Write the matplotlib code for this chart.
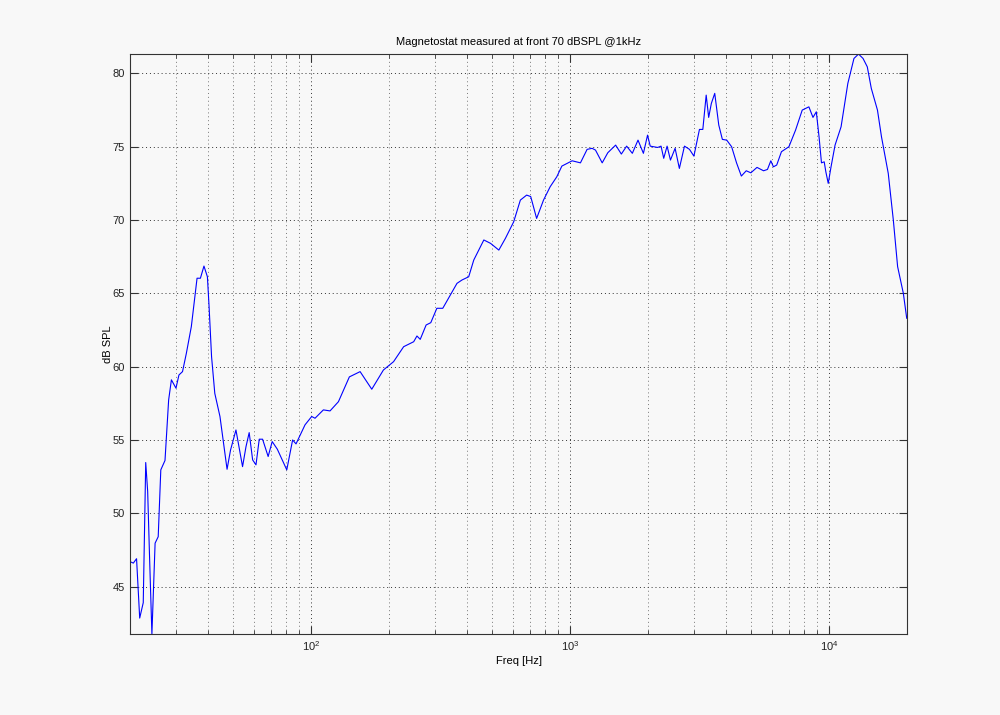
import numpy as np
import matplotlib
matplotlib.use("Agg")
import matplotlib.pyplot as plt
from matplotlib.ticker import LogLocator, NullFormatter, MultipleLocator

# Frequency response (Hz, dB SPL)
freq = [20.0, 20.6, 21.2, 21.8, 22.5, 23.0, 23.4, 23.8, 24.3, 25.0, 25.7, 26.3,
        27.3, 28.2, 28.9, 30.1, 30.9, 31.9, 33.0, 34.5, 36.3, 37.4, 38.6, 39.8,
        40.4, 41.3, 42.5, 44.5, 47.4, 48.9, 51.3, 54.4, 56.1, 57.7, 59.5, 61.3,
        63.1, 65.0, 68.3, 70.8, 74.1, 80.6, 84.9, 87.5, 94.8, 100.6, 103.6,
        111.6, 118.4, 127.6, 140.6, 154.7, 171.6, 190.3, 208.3, 227.8, 249.1,
        256.4, 264.0, 278.2, 290.0, 306.0, 322.6, 366.0, 382.7, 406.2, 424.9,
        464.7, 493.2, 531.0, 563.0, 606.0, 643.0, 680.0, 705.0, 743.0, 790.0,
        838.0, 889.0, 930.0, 1019, 1097, 1164, 1217, 1254, 1331, 1399, 1500,
        1578, 1654, 1740, 1830, 1920, 1992, 2040, 2180, 2246, 2300, 2370, 2442,
        2545, 2643, 2766, 2892, 3008, 3160, 3256, 3355, 3430, 3512, 3620, 3752,
        3874, 4027, 4206, 4394, 4586, 4790, 4990, 5270, 5587, 5785, 5960, 6100,
        6280, 6550, 7000, 7425, 7880, 8360, 8670, 8930, 9150, 9350, 9580, 9720,
        9930, 10180, 10550, 11130, 11820, 12480, 13000, 13530, 14050, 14560,
        15380, 15940, 16930, 17710, 18400, 19360, 19950]
spl = [46.7, 46.6, 46.9, 42.85, 43.9, 53.46, 51.5, 47.0, 41.75, 47.96, 48.4, 52.96,
       53.6, 57.73, 59.1, 58.53, 59.43, 59.66, 60.9, 62.73, 66.03, 66.03, 66.86, 66.13,
       64.09, 60.68, 58.18, 56.6, 53.0, 54.32, 55.68, 53.18, 54.55, 55.5, 53.64, 53.3,
       55.05, 55.05, 53.87, 54.89, 54.37, 52.96, 55.0, 54.73, 56.03, 56.6, 56.48,
       57.05, 56.98, 57.61, 59.3, 59.66, 58.46, 59.77, 60.34, 61.36, 61.7,
       62.09, 61.86, 62.84, 63.0, 63.98, 63.98, 65.68, 65.91, 66.13, 67.27,
       68.64, 68.41, 67.95, 68.75, 69.88, 71.36, 71.7, 71.6, 70.11, 71.36,
       72.27, 72.95, 73.68, 74.04, 73.9, 74.82, 74.89, 74.77, 73.9, 74.59, 75.11,
       74.5, 75.04, 74.55, 75.45, 74.55, 75.79, 75.04, 74.95, 75.04, 74.21, 75.04, 74.09,
       74.89, 73.52, 75.04, 74.82, 74.36, 76.18, 76.18, 78.52, 77.0, 77.95, 78.64, 76.48,
       75.5, 75.45, 75.0, 73.9, 73.0, 73.36, 73.22, 73.59, 73.36, 73.45, 74.04, 73.63,
       73.75, 74.66, 75.0, 76.13, 77.5, 77.72, 77.0, 77.38, 75.68, 73.9, 73.97, 73.29,
       72.5, 73.63, 75.11, 76.36, 79.32, 81.02, 81.32, 81.02, 80.45, 78.98,
       77.5, 75.68, 73.18, 70.0, 66.82, 65.0, 63.3]

bg = "#f8f8f8"
plt.rcParams["font.family"] = ["Liberation Sans", "DejaVu Sans"]
plt.rcParams["font.size"] = 8

fig = plt.figure(figsize=(10, 7.15), dpi=100, facecolor=bg)
ax = fig.add_axes([0.13, 0.113, 0.777, 0.812], facecolor=bg)

ax.semilogx(freq, spl, color="#0000ff", linewidth=0.8)

ax.set_xlim(20, 20000)
ax.set_ylim(41.75, 81.35)
ax.yaxis.set_major_locator(MultipleLocator(5))
ax.xaxis.set_major_locator(LogLocator(base=10))
ax.xaxis.set_minor_locator(LogLocator(base=10, subs=np.arange(2, 10)))
ax.xaxis.set_minor_formatter(NullFormatter())

ax.grid(True, which="major", linestyle=(0, (1, 3)), color="#333333", linewidth=0.7)
ax.grid(True, which="minor", axis="x", linestyle=(0, (1, 3)), color="#777777", linewidth=0.7)
ax.tick_params(which="both", direction="in", top=True, right=True, colors="#333333",
               labelcolor="#222222")
ax.tick_params(which="major", length=6)
ax.tick_params(which="minor", length=3)
for s in ax.spines.values():
    s.set_color("#333333")

ax.set_title("Magnetostat measured at front 70 dBSPL @1kHz", fontsize=8, pad=6)
ax.set_xlabel("Freq [Hz]", labelpad=2)
ax.set_ylabel("dB SPL", labelpad=0)

fig.savefig("out.png", dpi=100, facecolor=bg)
